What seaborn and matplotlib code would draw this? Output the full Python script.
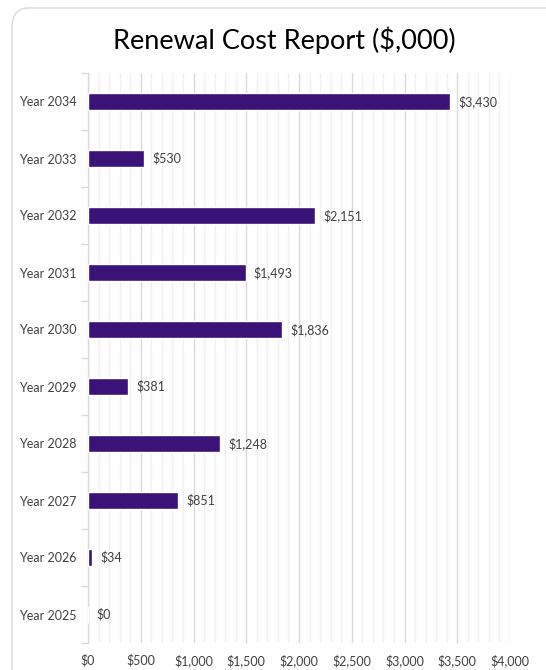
import matplotlib
matplotlib.use("Agg")
import matplotlib.pyplot as plt
from matplotlib.patches import FancyBboxPatch
from matplotlib.ticker import FuncFormatter, MultipleLocator
import seaborn as sns
import pandas as pd

years = ["Year 2034", "Year 2033", "Year 2032", "Year 2031", "Year 2030",
         "Year 2029", "Year 2028", "Year 2027", "Year 2026", "Year 2025"]
costs = [3430, 530, 2151, 1493, 1836, 381, 1248, 851, 34, 0]
x_ticks = [0, 500, 1000, 1500, 2000, 2500, 3000, 3500, 4000]

df = pd.DataFrame({"year": years, "cost": costs})

sns.set_theme(style="white")
plt.rcParams["font.family"] = ["Lato", "DejaVu Sans"]

fig = plt.figure(figsize=(5.46, 6.70), dpi=100)
fig.patch.set_facecolor("white")

# rounded chart-area frame
frame = FancyBboxPatch((12 / 546, -0.1), 1.2, 1.1 - 8 / 670,
                       boxstyle="round,pad=0,rounding_size=0.03",
                       transform=fig.transFigure, facecolor="none",
                       edgecolor="#d9d9d9", linewidth=1.0, zorder=-5)
fig.patches.append(frame)

ax = fig.add_axes([88 / 546, 1 - 643 / 670, 422 / 546, 570 / 670])
ax.set_facecolor("none")
ax.set_zorder(2)

sns.barplot(data=df, x="cost", y="year", orient="h", color="#3b1278",
            saturation=1, width=0.29, ax=ax, zorder=3)

ax.set_xlim(0, 4000)
ax.set_ylim(len(years) - 0.5, -0.5)
ax.xaxis.set_major_locator(MultipleLocator(500))
ax.xaxis.set_minor_locator(MultipleLocator(100))
ax.set_xticks(x_ticks)
ax.xaxis.set_major_formatter(FuncFormatter(lambda v, p: f"${v:,.0f}"))
ax.grid(axis="x", which="major", color="#d9d9d9", linewidth=1.0, zorder=0)
ax.grid(axis="x", which="minor", color="#f0f0f0", linewidth=1.0, zorder=0)
ax.grid(axis="y", visible=False)

for side in ["top", "right", "bottom"]:
    ax.spines[side].set_visible(False)
ax.spines["left"].set_color("#d9d9d9")
ax.spines["left"].set_linewidth(1.0)

# category tick marks sit between bars
ax.set_yticks([i - 0.5 for i in range(len(years) + 1)], minor=True)
ax.tick_params(axis="y", which="minor", length=5, color="#d9d9d9", width=1, left=True)
ax.tick_params(axis="y", which="major", length=0, pad=8, labelsize=9, labelcolor="#404040")
ax.tick_params(axis="x", which="both", length=0, pad=8, labelsize=9, labelcolor="#404040")
ax.set_xlabel("")
ax.set_ylabel("")

for cont in ax.containers:
    ax.bar_label(cont, labels=[f"${v:,.0f}" for v in costs], padding=6,
                 fontsize=9, color="#404040")

fig.text(284 / 546, 1 - 40 / 670, "Renewal Cost Report ($,000)", ha="center",
         va="center", fontsize=19.5, color="#000000")

fig.savefig("out.png", dpi=100)
